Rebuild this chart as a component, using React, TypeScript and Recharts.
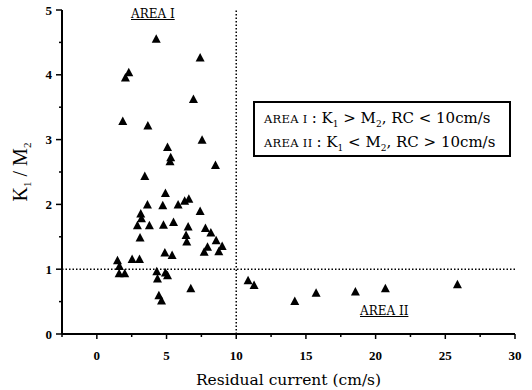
import { ScatterChart, Scatter, XAxis, YAxis, ReferenceLine, Label } from 'recharts';

// residual current (cm/s) and K1/M2 ratio
const residualCurrent = [
  4.26, 7.41, 2.29, 2.05, 6.93, 1.86, 3.66, 7.55, 5.07, 5.3, 5.25, 8.51, 3.44,
  4.92, 6.3, 6.6, 3.63, 4.73, 5.83, 7.41, 3.15, 3.2, 5.5, 2.91, 3.77, 4.78,
  6.55, 7.79, 8.18, 6.4, 6.45, 3.1, 8.56, 8.99, 8.75, 7.94, 7.7, 4.88, 5.4,
  2.53, 3.06, 1.48, 1.62, 1.6, 2.0, 4.3, 4.35, 4.92, 5.07, 6.74, 4.45, 4.64,
  10.85, 11.28, 14.2, 15.73, 18.55, 20.7, 25.87,
];
const ratioK1M2 = [
  4.55, 4.26, 4.03, 3.95, 3.62, 3.28, 3.21, 2.99, 2.88, 2.72, 2.66, 2.6, 2.43,
  2.17, 2.05, 2.08, 1.99, 1.98, 1.99, 1.89, 1.85, 1.78, 1.72, 1.67, 1.67, 1.68,
  1.65, 1.63, 1.56, 1.52, 1.42, 1.48, 1.44, 1.35, 1.27, 1.34, 1.26, 1.25, 1.21,
  1.15, 1.15, 1.13, 1.04, 0.93, 0.93, 0.96, 0.85, 0.94, 0.9, 0.7, 0.59, 0.51,
  0.82, 0.75, 0.5, 0.63, 0.65, 0.7, 0.76,
];
const xTicks = [-2.5, 0, 2.5, 5, 7.5, 10, 12.5, 15, 17.5, 20, 22.5, 25, 27.5, 30];
const yTicks = [0, 0.5, 1, 1.5, 2, 2.5, 3, 3.5, 4, 4.5, 5];

const points = residualCurrent.map((x, i) => ({ x, y: ratioK1M2[i] }));

const serif = '"DejaVu Serif", serif';
const tickFont = '"Liberation Serif", serif';

const XTick = ({ x, y, payload }: any) => {
  const major = payload.value % 5 === 0;
  return (
    <g>
      <line x1={x} y1={y} x2={x} y2={y + (major ? 5 : 3)} stroke="#000" strokeWidth={1.5} />
      {major && (
        <text x={x} y={y + 26} textAnchor="middle" fontFamily={tickFont} fontWeight="bold" fontSize={13} fill="#000">
          {payload.value}
        </text>
      )}
    </g>
  );
};

const YTick = ({ x, y, payload }: any) => {
  const major = payload.value % 1 === 0;
  return (
    <g>
      <line x1={x} y1={y} x2={x - (major ? 6 : 3)} y2={y} stroke="#000" strokeWidth={1.5} />
      {major && (
        <text x={x - 10} y={y + 4.5} textAnchor="end" fontFamily={tickFont} fontWeight="bold" fontSize={13} fill="#000">
          {payload.value}
        </text>
      )}
    </g>
  );
};

const Triangle = ({ cx, cy }: any) => (
  <polygon points={`${cx},${cy - 5} ${cx - 4.5},${cy + 3.5} ${cx + 4.5},${cy + 3.5}`} fill="#000" />
);

const YLabel = ({ viewBox }: any) => {
  const cx = 27;
  const cy = viewBox.y + viewBox.height / 2;
  return (
    <text x={cx} y={cy} transform={`rotate(-90 ${cx} ${cy})`} textAnchor="middle" fontFamily={tickFont} fontSize={20} fill="#000">
      K<tspan fontSize={11} dy={4}>1</tspan>
      <tspan dy={-4}> / M</tspan>
      <tspan fontSize={11} dy={4}>2</tspan>
    </text>
  );
};

const smallCaps = { fontSize: 11.5, letterSpacing: 0.3, marginRight: 4 };
const sub = { fontSize: 9, position: 'relative' as const, top: 4 };

export default function App() {
  return (
    <div style={{ position: 'fixed', left: 0, top: 0, width: 532, height: 390, background: '#fff' }}>
      <ScatterChart width={532} height={390} margin={{ top: 10, right: 17, left: 0, bottom: 0 }}>
        <XAxis
          type="number"
          dataKey="x"
          domain={[-2.5, 30]}
          ticks={xTicks}
          interval={0}
          height={56}
          tickSize={0}
          tickMargin={0}
          tick={<XTick />}
          axisLine={{ stroke: '#000', strokeWidth: 2 }}
        >
          <Label value="Residual current (cm/s)" position="insideBottom" offset={5} fontFamily={serif} fontSize={15.5} fill="#000" />
        </XAxis>
        <YAxis
          type="number"
          dataKey="y"
          domain={[0, 5]}
          ticks={yTicks}
          interval={0}
          width={62}
          tickSize={0}
          tickMargin={0}
          tick={<YTick />}
          axisLine={{ stroke: '#000', strokeWidth: 2 }}
        >
          <Label content={<YLabel />} />
        </YAxis>
        <ReferenceLine y={1} stroke="#000" strokeWidth={1.5} strokeDasharray="1.5 2" />
        <ReferenceLine x={10} stroke="#000" strokeWidth={1.5} strokeDasharray="1.5 2" />
        <Scatter data={points} shape={<Triangle />} isAnimationActive={false} />
      </ScatterChart>

      <div style={{ position: 'absolute', left: 131, top: 7, fontFamily: serif, fontSize: 12, textDecoration: 'underline', color: '#000' }}>
        AREA I
      </div>
      <div style={{ position: 'absolute', left: 360, top: 304, fontFamily: serif, fontSize: 12, textDecoration: 'underline', color: '#000' }}>
        AREA II
      </div>

      <div
        style={{
          position: 'absolute',
          left: 253,
          top: 101,
          width: 258,
          height: 56,
          border: '2px solid #000',
          fontFamily: serif,
          fontSize: 15,
          color: '#000',
          lineHeight: '22px',
          padding: '4px 0 0 9px',
          boxSizing: 'border-box',
          whiteSpace: 'nowrap',
        }}
      >
        <div>
          <span style={smallCaps}>AREA I</span>: K<span style={sub}>1</span> &gt; M<span style={sub}>2</span>, RC &lt; 10cm/s
        </div>
        <div>
          <span style={smallCaps}>AREA II</span>: K<span style={sub}>1</span> &lt; M<span style={sub}>2</span>, RC &gt; 10cm/s
        </div>
      </div>
    </div>
  );
}
